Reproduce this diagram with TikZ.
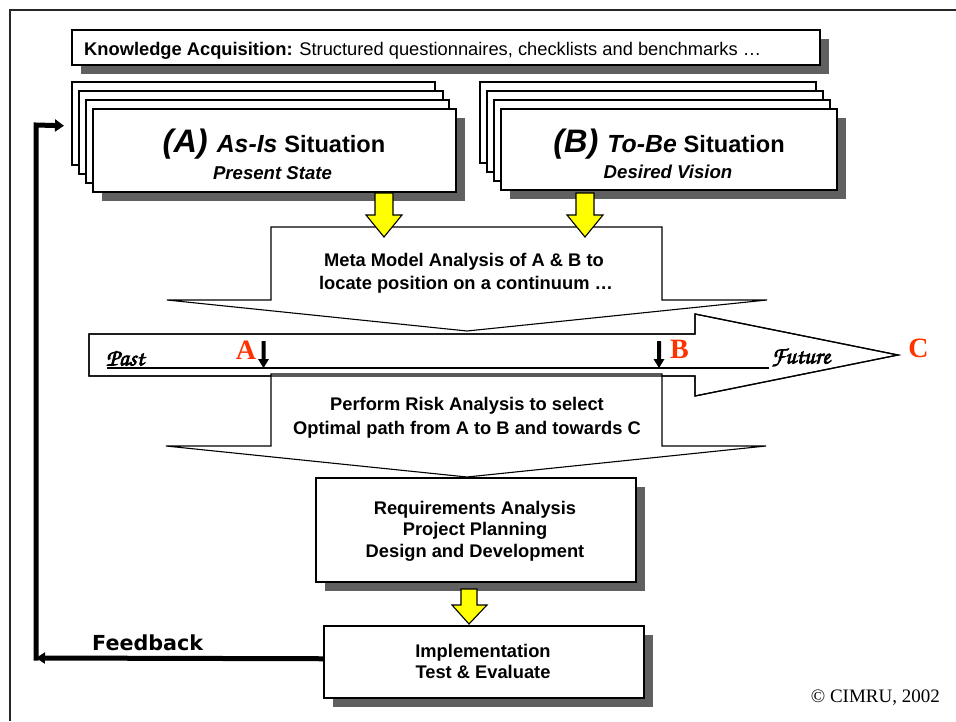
\documentclass[tikz,border=0pt]{standalone}
\usepackage[T1]{fontenc}
\usepackage{fontspec}
\setmainfont{Liberation Sans}
\newfontfamily\timesf{Liberation Serif}
\newfontfamily\verdf{DejaVu Sans}
\newcommand\chanf{\fontencoding{T1}\fontfamily{pzc}\fontseries{mb}\fontshape{it}\selectfont}
\newcommand\fsz[1]{\fontsize{#1}{#1}\selectfont}
\newcommand\heavy[1]{\special{pdf:literal 2 Tr 0.7 w}#1\special{pdf:literal 0 Tr}}
\usetikzlibrary{shadows,arrows.meta}
\definecolor{shad}{HTML}{606060}
\definecolor{redl}{HTML}{FF3300}
\definecolor{yel}{HTML}{FFFF00}
\begin{document}
\begin{tikzpicture}[x=1pt,y=-1pt,
  box/.style={draw=black, fill=white, line width=1.5pt, inner sep=0pt, anchor=north west},
  sbox/.style={box, drop shadow={fill=shad, opacity=1, shadow xshift=9pt, shadow yshift=-9pt}},
  callout/.style={draw=black, fill=white, line width=1.1pt, line join=miter},
  yarr/.style={draw=black, fill=yel, line width=1.1pt, line join=miter},
  marker/.style={fill=black, draw=none},
  fb/.style={draw=black, line width=5pt, line join=miter},
  txt/.style={anchor=base, inner sep=0pt, font=\bfseries\fsz{18.3}},
  ttl/.style={anchor=base, inner sep=0pt},
  redlet/.style={anchor=base, inner sep=0pt, text=redl, font=\timesf\bfseries\fsz{28}},
  scrpt/.style={anchor=base west, inner sep=0pt, font={\fsz{24}\chanf}}
]
\useasboundingbox (0,0) rectangle (956,721);
\fill[white] (0,0) rectangle (956,721);
% outer frame
\draw[line width=1.3pt, draw=black!85] (10,721) -- (10,10) -- (956,10);

% knowledge acquisition
\node[sbox, minimum width=748pt, minimum height=35pt] (ka) at (71,29) {};
\node[anchor=base west, inner sep=0pt, font=\fsz{18.3}] (kat) at (84,55)
  {\textbf{Knowledge Acquisition:} Structured questionnaires, checklists and benchmarks …};

% As-Is stack
\node[box, minimum width=363pt, minimum height=83pt] (a1) at (71,81) {};
\node[box, minimum width=364pt, minimum height=83pt] (a2) at (78,90) {};
\node[box, minimum width=363pt, minimum height=83pt] (a3) at (85,99) {};
\node[sbox, minimum width=363pt, minimum height=83pt] (a4) at (92,108) {};
\node[ttl] (at) at (274,152.5) {\bfseries\itshape\fsz{32.5}(A) \fsz{24.8}As-Is \upshape\fsz{23.6}Situation};
\node[ttl] (as) at (272.5,179) {\bfseries\itshape\fsz{18.6}Present State};

% To-Be stack
\node[box, minimum width=336pt, minimum height=81pt] (b1) at (479,81) {};
\node[box, minimum width=336pt, minimum height=81pt] (b2) at (486,90) {};
\node[box, minimum width=336pt, minimum height=81pt] (b3) at (493,99) {};
\node[sbox, minimum width=336pt, minimum height=81pt] (b4) at (500,108) {};
\node[ttl] (bt) at (669,152) {\bfseries\itshape\fsz{32.5}(B) \fsz{24.8}To-Be \upshape\fsz{23.6}Situation};
\node[ttl] (bs) at (668,178.5) {\bfseries\itshape\fsz{18.6}Desired Vision};

% Meta model callout
\draw[callout] (271,227) -- (662,227) -- (662,300) -- (767,300) -- (467,331) -- (167,300) -- (271,300) -- cycle;
\node[txt] (meta1) at (464,266) {Meta Model Analysis of A \& B to};
\node[txt] (meta2) at (466,289) {locate position on a continuum …};

% timeline arrow
\draw[callout, line width=1.2pt] (89,334) -- (695,334) -- (695,314) -- (898,355) -- (695,396) -- (695,376) -- (89,376) -- cycle;

% risk callout
\draw[callout] (271,374) -- (662,374) -- (662,446) -- (766,446) -- (467,477) -- (166,446) -- (271,446) -- cycle;
\draw[line width=1.2pt, line join=miter] (89,334) -- (695,334) -- (695,314) -- (898,355) -- (695,396) -- (695,376) -- (89,376) -- cycle;
\node[txt] (risk1) at (467,410) {Perform Risk Analysis to select};
\node[txt] (risk2) at (467,434) {Optimal path from A to B and towards C};

% timeline contents
\draw[line width=1.2pt] (107,368) -- (769,368);
\node[scrpt] (past) at (106,365.5) {\heavy{Past}};
\node[scrpt] (future) at (771,363.5) {\heavy{Future}};
\fill[marker] (261.5,341) -- (265.5,341) -- (265.5,359) -- (269,359) -- (263.5,368) -- (258,359) -- (261.5,359) -- cycle;
\fill[marker] (657,341) -- (661,341) -- (661,359) -- (664.5,359) -- (659,368) -- (653.5,359) -- (657,359) -- cycle;
\node[redlet] (la) at (246,359) {A};
\node[redlet] (lb) at (679.5,358) {B};
\node[redlet] (lc) at (918.5,357.5) {C};

% requirements & implementation
\node[sbox, minimum width=320pt, minimum height=104pt] (req) at (315,477) {};
\node[txt] (req1) at (475,514.5) {Requirements Analysis};
\node[txt] (req2) at (475,535.5) {Project Planning};
\node[txt] (req3) at (475,557.5) {Design and Development};
\node[sbox, minimum width=320pt, minimum height=72pt] (impl) at (323,625) {};
\node[txt] (imp1) at (483,657) {Implementation};
\node[txt] (imp2) at (483,678.5) {Test \& Evaluate};

% yellow block arrows
\draw[yarr] (375,193) -- (393,193) -- (393,215) -- (402,215) -- (384,237) -- (366,215) -- (375,215) -- cycle;
\draw[yarr] (576,193) -- (594,193) -- (594,215) -- (603,215) -- (585,237) -- (567,215) -- (576,215) -- cycle;
\draw[yarr] (461,589) -- (477,589) -- (477,605) -- (487,605) -- (469,624) -- (452,605) -- (461,605) -- cycle;

% feedback loop
\coordinate (fbc) at (36,658);
\draw[fb, -{Triangle[length=9pt,width=11pt]}] ([yshift=3pt]impl.west) -- (fbc);
\draw[fb, -{Triangle[length=9pt,width=12pt]}] ([yshift=-2.5pt]fbc) -- (36,125) -- ([xshift=-7pt,yshift=-2.5pt]a1.west);
\node[anchor=base west, inner sep=0pt, font=\verdf\bfseries\fsz{20.7}] (fbt) at (92,650) {Feedback};

% copyright
\node[anchor=base east, inner sep=0pt, font=\timesf\fsz{19}] (copy) at (940,702) {© CIMRU, 2002};
\end{tikzpicture}
\end{document}
